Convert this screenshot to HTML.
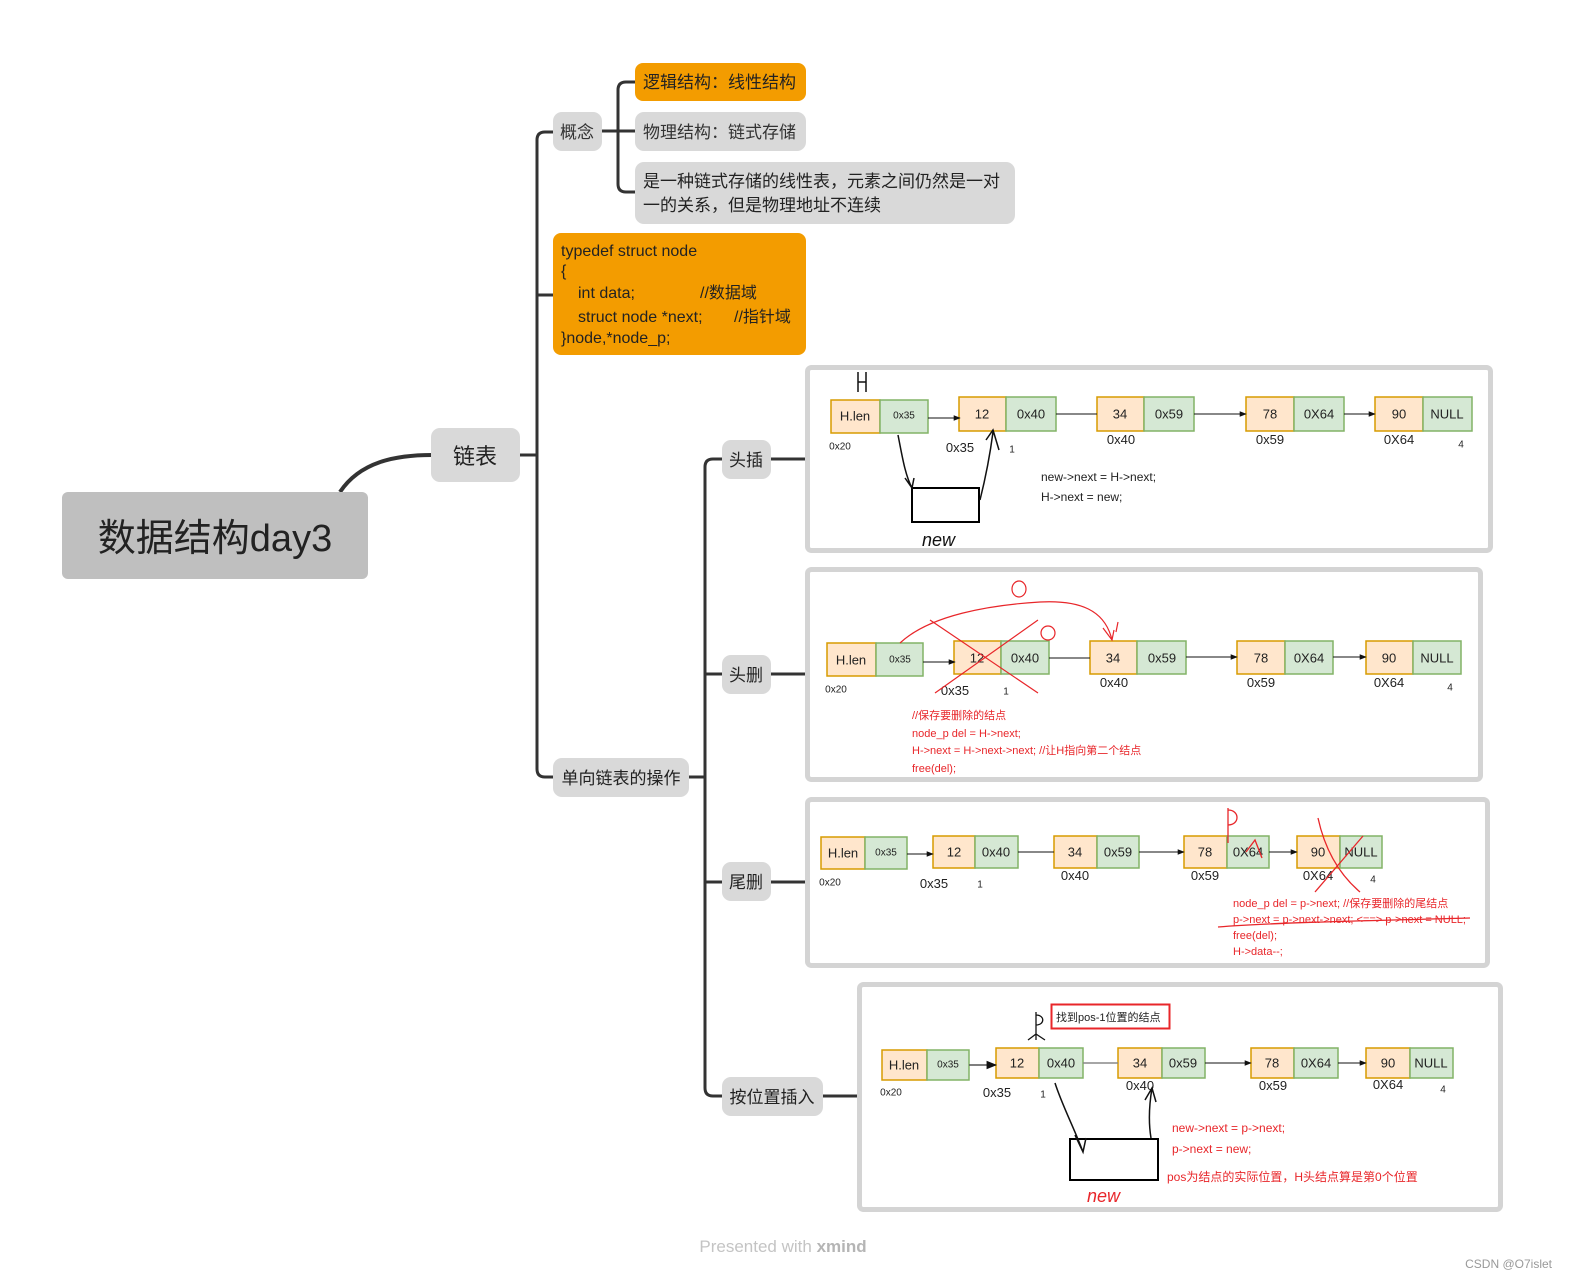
<!DOCTYPE html>
<html><head><meta charset="utf-8"><style>
html,body{margin:0;padding:0;background:#fff;}
svg{display:block;}
text{font-family:"Liberation Sans","Noto Sans CJK SC",sans-serif;}
.o{fill:#ffe6cc;stroke:#d79b00;stroke-width:1.5}
.g{fill:#d5e8d4;stroke:#82b366;stroke-width:1.5}
.t{font-size:13px;fill:#222;text-anchor:middle;dominant-baseline:central}
.s{font-size:10px;fill:#222;text-anchor:middle;dominant-baseline:central}
.l{font-size:13px;fill:#222;text-anchor:middle}
.r{font-size:11px;fill:#e8262a}
.tr{stroke:#333;stroke-width:3;fill:none}
</style></head><body>
<svg width="1575" height="1283" viewBox="0 0 1575 1283" xmlns="http://www.w3.org/2000/svg">
<defs><marker id="a" viewBox="0 0 10 10" refX="9" refY="5" markerWidth="7" markerHeight="7" orient="auto"><path d="M0 1L10 5L0 9z" fill="#111"/></marker></defs>

<!-- mind map connectors -->
<path d="M340 492 C360 462 395 455 432 455" stroke="#333" stroke-width="4" fill="none"/>
<path class="tr" d="M520 455H537"/>
<path class="tr" d="M553 132H545Q537 132 537 140V769Q537 777 545 777H553"/>
<path class="tr" d="M537 295H553"/>
<path class="tr" d="M602 131H635"/>
<path class="tr" d="M635 82H626Q618 82 618 90V184Q618 192 626 192H635"/>
<path class="tr" d="M689 777H705"/>
<path class="tr" d="M722 459H713Q705 459 705 467V1088Q705 1096 713 1096H722"/>
<path class="tr" d="M705 674H722M705 882H722"/>
<path class="tr" d="M771 459H805M771 674H805M771 882H805M823 1096H857"/>

<!-- root -->
<rect x="62" y="492" width="306" height="87" rx="6" fill="#bfbfbf"/>
<text x="215" y="551" font-size="38" text-anchor="middle" fill="#222">数据结构day3</text>
<rect x="431" y="428" width="89" height="54" rx="9" fill="#d9d9d9"/>
<text x="475" y="464" font-size="22" text-anchor="middle" fill="#222">链表</text>

<rect x="553" y="112" width="49" height="39" rx="9" fill="#d9d9d9"/>
<text x="577" y="138" font-size="17" text-anchor="middle" fill="#333">概念</text>
<rect x="635" y="63" width="171" height="38" rx="8" fill="#f39c00"/>
<text x="643" y="88" font-size="17" fill="#222">逻辑结构：线性结构</text>
<rect x="635" y="112" width="171" height="39" rx="9" fill="#d9d9d9"/>
<text x="643" y="138" font-size="17" fill="#333">物理结构：链式存储</text>
<rect x="635" y="162" width="380" height="62" rx="9" fill="#d9d9d9"/>
<text x="643" y="187" font-size="17" fill="#222">是一种链式存储的线性表，元素之间仍然是一对</text>
<text x="643" y="211" font-size="17" fill="#222">一的关系，但是物理地址不连续</text>

<rect x="553" y="233" width="253" height="122" rx="8" fill="#f39c00"/>
<g font-size="16" fill="#222">
<text x="561" y="256">typedef struct node</text>
<text x="561" y="276">{</text>
<text x="578" y="298">int data;</text><text x="700" y="298">//数据域</text>
<text x="578" y="322">struct node *next;</text><text x="734" y="322">//指针域</text>
<text x="561" y="343">}node,*node_p;</text>
</g>

<rect x="553" y="758" width="136" height="39" rx="9" fill="#d9d9d9"/>
<text x="621" y="784" font-size="17" text-anchor="middle" fill="#222">单向链表的操作</text>
<rect x="722" y="440" width="49" height="39" rx="9" fill="#d9d9d9"/>
<text x="746" y="466" font-size="17" text-anchor="middle" fill="#222">头插</text>
<rect x="722" y="655" width="49" height="39" rx="9" fill="#d9d9d9"/>
<text x="746" y="681" font-size="17" text-anchor="middle" fill="#222">头删</text>
<rect x="722" y="862" width="49" height="39" rx="9" fill="#d9d9d9"/>
<text x="746" y="888" font-size="17" text-anchor="middle" fill="#222">尾删</text>
<rect x="722" y="1077" width="101" height="39" rx="9" fill="#d9d9d9"/>
<text x="772" y="1103" font-size="17" text-anchor="middle" fill="#222">按位置插入</text>

<!-- panels -->
<rect x="807.5" y="367.5" width="683" height="183" rx="4" fill="#fff" stroke="#d4d4d4" stroke-width="5"/>
<rect x="807.5" y="569.5" width="673" height="210" rx="4" fill="#fff" stroke="#d4d4d4" stroke-width="5"/>
<rect x="807.5" y="799.5" width="680" height="166" rx="4" fill="#fff" stroke="#d4d4d4" stroke-width="5"/>
<rect x="859.5" y="984.5" width="641" height="225" rx="4" fill="#fff" stroke="#d4d4d4" stroke-width="5"/>

<!-- Panel 1 -->
<g>
<rect class="o" x="831" y="400" width="49" height="33"/><rect class="g" x="880" y="400" width="48" height="33"/>
<text class="t" x="855" y="416">H.len</text><text class="s" x="904" y="416">0x35</text>
<rect class="o" x="959" y="397" width="47" height="34"/><rect class="g" x="1006" y="397" width="50" height="34"/>
<text class="t" x="982" y="414">12</text><text class="t" x="1031" y="414">0x40</text>
<rect class="o" x="1097" y="397" width="47" height="34"/><rect class="g" x="1144" y="397" width="50" height="34"/>
<text class="t" x="1120" y="414">34</text><text class="t" x="1169" y="414">0x59</text>
<rect class="o" x="1246" y="397" width="48" height="34"/><rect class="g" x="1294" y="397" width="50" height="34"/>
<text class="t" x="1270" y="414">78</text><text class="t" x="1319" y="414">0X64</text>
<rect class="o" x="1375" y="397" width="48" height="34"/><rect class="g" x="1423" y="397" width="49" height="34"/>
<text class="t" x="1399" y="414">90</text><text class="t" x="1447" y="414">NULL</text>
<path d="M928 418H960" stroke="#111" marker-end="url(#a)"/>
<path d="M1056 414H1097" stroke="#111"/>
<path d="M1194 414H1246" stroke="#111" marker-end="url(#a)"/>
<path d="M1344 414H1375" stroke="#111" marker-end="url(#a)"/>
<text class="s" x="840" y="447">0x20</text><text class="l" x="960" y="452">0x35</text><text class="s" x="1012" y="450">1</text>
<text class="l" x="1121" y="444">0x40</text><text class="l" x="1270" y="444">0x59</text><text class="l" x="1399" y="444">0X64</text><text class="s" x="1461" y="445">4</text>
<text x="1041" y="481" font-size="12" fill="#222">new-&gt;next = H-&gt;next;</text>
<text x="1041" y="501" font-size="12" fill="#222">H-&gt;next = new;</text>
<rect x="912" y="488" width="67" height="34" fill="none" stroke="#000" stroke-width="2"/>
<path d="M898 435C902 455 905 475 912 488M905 478L912 488L914 478M980 500C985 480 990 455 993 432M986 440L993 430L999 450" stroke="#111" stroke-width="1.5" fill="none"/>
<path d="M858 372V392M866 372V392M858 382H866" stroke="#111" stroke-width="1.5"/>
<text x="922" y="546" font-size="18" fill="#111" font-style="italic">new</text>
</g>

<!-- Panel 2 -->
<g>
<rect class="o" x="827" y="643" width="49" height="33"/><rect class="g" x="876" y="643" width="47" height="33"/>
<text class="t" x="851" y="660">H.len</text><text class="s" x="900" y="660">0x35</text>
<rect class="o" x="954" y="641" width="47" height="33"/><rect class="g" x="1001" y="641" width="48" height="33"/>
<text class="t" x="977" y="658">12</text><text class="t" x="1025" y="658">0x40</text>
<rect class="o" x="1090" y="641" width="47" height="33"/><rect class="g" x="1137" y="641" width="49" height="33"/>
<text class="t" x="1113" y="658">34</text><text class="t" x="1162" y="658">0x59</text>
<rect class="o" x="1237" y="641" width="48" height="33"/><rect class="g" x="1285" y="641" width="48" height="33"/>
<text class="t" x="1261" y="658">78</text><text class="t" x="1309" y="658">0X64</text>
<rect class="o" x="1366" y="641" width="47" height="33"/><rect class="g" x="1413" y="641" width="48" height="33"/>
<text class="t" x="1389" y="658">90</text><text class="t" x="1437" y="658">NULL</text>
<path d="M923 662H955" stroke="#111" marker-end="url(#a)"/>
<path d="M1049 658H1090" stroke="#111"/>
<path d="M1186 657H1237" stroke="#111" marker-end="url(#a)"/>
<path d="M1333 657H1366" stroke="#111" marker-end="url(#a)"/>
<text class="s" x="836" y="690">0x20</text><text class="l" x="955" y="695">0x35</text><text class="s" x="1006" y="692">1</text>
<text class="l" x="1114" y="687">0x40</text><text class="l" x="1261" y="687">0x59</text><text class="l" x="1389" y="687">0X64</text><text class="s" x="1450" y="688">4</text>
<g stroke="#e8262a" stroke-width="1.2" fill="none">
<path d="M900 643C930 615 990 605 1040 602C1080 600 1105 610 1112 640"/>
<path d="M1103 628L1112 640L1114 630M1116 632L1118 622"/>
<path d="M930 620L1038 693M1038 620L935 693"/>
<ellipse cx="1019" cy="589" rx="7" ry="8"/>
<ellipse cx="1048" cy="633" rx="7" ry="7"/>
</g>
<text class="r" x="912" y="719">//保存要删除的结点</text>
<text class="r" x="912" y="737">node_p del = H-&gt;next;</text>
<text class="r" x="912" y="754">H-&gt;next = H-&gt;next-&gt;next;  //让H指向第二个结点</text>
<text class="r" x="912" y="772">free(del);</text>
</g>

<!-- Panel 3 -->
<g>
<rect class="o" x="821" y="837" width="44" height="32"/><rect class="g" x="865" y="837" width="42" height="32"/>
<text class="t" x="843" y="853">H.len</text><text class="s" x="886" y="853">0x35</text>
<rect class="o" x="933" y="836" width="42" height="32"/><rect class="g" x="975" y="836" width="43" height="32"/>
<text class="t" x="954" y="852">12</text><text class="t" x="996" y="852">0x40</text>
<rect class="o" x="1054" y="836" width="43" height="32"/><rect class="g" x="1097" y="836" width="42" height="32"/>
<text class="t" x="1075" y="852">34</text><text class="t" x="1118" y="852">0x59</text>
<rect class="o" x="1184" y="836" width="43" height="32"/><rect class="g" x="1227" y="836" width="42" height="32"/>
<text class="t" x="1205" y="852">78</text><text class="t" x="1248" y="852">0X64</text>
<rect class="o" x="1297" y="836" width="43" height="32"/><rect class="g" x="1340" y="836" width="42" height="32"/>
<text class="t" x="1318" y="852">90</text><text class="t" x="1361" y="852">NULL</text>
<path d="M907 854H933" stroke="#111" marker-end="url(#a)"/>
<path d="M1018 852H1054" stroke="#111"/>
<path d="M1139 852H1184" stroke="#111" marker-end="url(#a)"/>
<path d="M1269 852H1297" stroke="#111" marker-end="url(#a)"/>
<text class="s" x="830" y="883">0x20</text><text class="l" x="934" y="888">0x35</text><text class="s" x="980" y="885">1</text>
<text class="l" x="1075" y="880">0x40</text><text class="l" x="1205" y="880">0x59</text><text class="l" x="1318" y="880">0X64</text><text class="s" x="1373" y="880">4</text>
<g stroke="#e8262a" stroke-width="1.3" fill="none">
<path d="M1228 808V843M1228 810C1240 810 1240 825 1228 825"/>
<path d="M1246 852L1255 840L1262 858"/>
<path d="M1318 818C1325 850 1340 875 1360 892M1363 836L1315 892"/>
<path d="M1218 927C1280 922 1400 920 1470 918"/>
</g>
<text class="r" x="1233" y="907" font-size="10">node_p del = p-&gt;next;  //保存要删除的尾结点</text>
<text class="r" x="1233" y="923" font-size="10">p-&gt;next = p-&gt;next-&gt;next; &lt;==&gt; p-&gt;next = NULL;</text>
<text class="r" x="1233" y="939" font-size="10">free(del);</text>
<text class="r" x="1233" y="955" font-size="10">H-&gt;data--;</text>
</g>

<!-- Panel 4 -->
<g>
<rect class="o" x="882" y="1050" width="45" height="30"/><rect class="g" x="927" y="1050" width="42" height="30"/>
<text class="t" x="904" y="1065">H.len</text><text class="s" x="948" y="1065">0x35</text>
<rect class="o" x="996" y="1048" width="43" height="30"/><rect class="g" x="1039" y="1048" width="44" height="30"/>
<text class="t" x="1017" y="1063">12</text><text class="t" x="1061" y="1063">0x40</text>
<rect class="o" x="1118" y="1048" width="44" height="30"/><rect class="g" x="1162" y="1048" width="43" height="30"/>
<text class="t" x="1140" y="1063">34</text><text class="t" x="1183" y="1063">0x59</text>
<rect class="o" x="1251" y="1048" width="43" height="30"/><rect class="g" x="1294" y="1048" width="44" height="30"/>
<text class="t" x="1272" y="1063">78</text><text class="t" x="1316" y="1063">0X64</text>
<rect class="o" x="1366" y="1048" width="44" height="30"/><rect class="g" x="1410" y="1048" width="43" height="30"/>
<text class="t" x="1388" y="1063">90</text><text class="t" x="1431" y="1063">NULL</text>
<path d="M969 1065H996" stroke="#555" stroke-width="1.5" marker-end="url(#a)"/>
<path d="M1083 1063H1118" stroke="#888" stroke-width="1.5"/>
<path d="M1205 1063H1251" stroke="#111" marker-end="url(#a)"/>
<path d="M1338 1063H1366" stroke="#111" marker-end="url(#a)"/>
<text class="s" x="891" y="1093">0x20</text><text class="l" x="997" y="1097">0x35</text><text class="s" x="1043" y="1095">1</text>
<text class="l" x="1140" y="1090">0x40</text><text class="l" x="1273" y="1090">0x59</text><text class="l" x="1388" y="1089">0X64</text><text class="s" x="1443" y="1090">4</text>
<rect x="1051.5" y="1004.5" width="118" height="24" fill="#fff" stroke="#e8262a" stroke-width="2"/>
<text x="1056" y="1021" font-size="11" fill="#222">找到pos-1位置的结点</text>
<path d="M1036 1015C1045 1015 1045 1025 1036 1025M1036 1012V1040M1028 1040L1036 1034L1045 1040" stroke="#111" stroke-width="1.3" fill="none"/>
<rect x="1070" y="1139" width="88" height="41" fill="none" stroke="#000" stroke-width="2"/>
<path d="M1055 1083C1062 1105 1075 1130 1083 1152M1075 1135L1083 1152L1086 1138M1151 1138C1148 1120 1150 1100 1152 1088M1145 1100L1152 1088L1156 1102" stroke="#111" stroke-width="1.5" fill="none"/>
<text x="1172" y="1132" font-size="12" fill="#e8262a">new-&gt;next = p-&gt;next;</text>
<text x="1172" y="1153" font-size="12" fill="#e8262a">p-&gt;next = new;</text>
<text x="1167" y="1181" font-size="12" fill="#e8262a">pos为结点的实际位置，H头结点算是第0个位置</text>
<text x="1087" y="1202" font-size="18" fill="#e8262a" font-style="italic">new</text>
</g>

<text x="783" y="1252" font-size="17" text-anchor="middle" fill="#c4c4c4">Presented with <tspan font-weight="bold" fill="#b5b5b5">xmind</tspan></text>
<text x="1552" y="1268" font-size="12" text-anchor="end" fill="#999">CSDN @O7islet</text>
</svg>
</body></html>
